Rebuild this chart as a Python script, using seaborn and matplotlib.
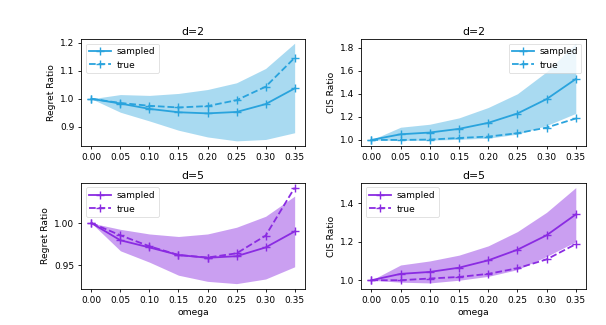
import numpy as np
import matplotlib
matplotlib.use("Agg")
import matplotlib.pyplot as plt
import pandas as pd
import seaborn as sns

plt.rcParams['font.family'] = ['DejaVu Sans']

omega = [0.0, 0.05, 0.10, 0.15, 0.20, 0.25, 0.30, 0.35]

# d=2 regret ratio
reg2_sampled = [1.0, 0.983, 0.964, 0.952, 0.948, 0.953, 0.981, 1.037]
reg2_true = [1.0, 0.985, 0.975, 0.969, 0.974, 0.995, 1.043, 1.146]
reg2_upper = [1.0, 1.015, 1.012, 1.019, 1.033, 1.057, 1.108, 1.198]
reg2_lower = [1.0, 0.952, 0.921, 0.888, 0.864, 0.850, 0.855, 0.879]

# d=2 CIS ratio
cis2_sampled = [1.0, 1.049, 1.064, 1.096, 1.148, 1.229, 1.354, 1.528]
cis2_true = [1.0, 1.0, 1.003, 1.017, 1.029, 1.058, 1.107, 1.186]
cis2_upper = [1.0, 1.11, 1.136, 1.191, 1.281, 1.40, 1.591, 1.838]
cis2_lower = [1.0, 0.995, 0.998, 1.005, 1.015, 1.05, 1.125, 1.23]

# d=5 regret ratio
reg5_sampled = [1.0, 0.9795, 0.971, 0.962, 0.9587, 0.9606, 0.971, 0.990]
reg5_true = [1.0, 0.9854, 0.9724, 0.962, 0.959, 0.964, 0.985, 1.042]
reg5_upper = [1.0, 0.9925, 0.987, 0.984, 0.987, 0.995, 1.008, 1.032]
reg5_lower = [1.0, 0.967, 0.9535, 0.938, 0.9307, 0.928, 0.9335, 0.948]

# d=5 CIS ratio
cis5_sampled = [1.0, 1.033, 1.043, 1.065, 1.103, 1.158, 1.233, 1.341]
cis5_true = [1.0, 1.0, 1.009, 1.017, 1.033, 1.062, 1.108, 1.187]
cis5_upper = [1.0, 1.079, 1.10, 1.13, 1.178, 1.252, 1.352, 1.48]
cis5_lower = [1.0, 0.99, 0.986, 1.0, 1.02, 1.055, 1.123, 1.2]

blue = '#29a3dd'
purple = '#8a2be2'

fig = plt.figure(figsize=(6.06, 3.25), dpi=100)
ax_tl = fig.add_axes([0.134, 0.551, 0.369, 0.329])
ax_tr = fig.add_axes([0.596, 0.551, 0.371, 0.329])
ax_bl = fig.add_axes([0.134, 0.111, 0.369, 0.326])
ax_br = fig.add_axes([0.596, 0.111, 0.371, 0.326])

panels = [
    (ax_tl, reg2_sampled, reg2_true, reg2_lower, reg2_upper, blue, 0.4, 'd=2', 'Regret Ratio', (0.832, 1.213), [0.9, 1.0, 1.1, 1.2], '%.1f', 'upper left'),
    (ax_tr, cis2_sampled, cis2_true, cis2_lower, cis2_upper, blue, 0.4, 'd=2', 'CIS Ratio', (0.948, 1.875), [1.0, 1.2, 1.4, 1.6, 1.8], '%.1f', 'upper right'),
    (ax_bl, reg5_sampled, reg5_true, reg5_lower, reg5_upper, purple, 0.45, 'd=5', 'Regret Ratio', (0.9217, 1.0476), [0.95, 1.0], '%.2f', 'upper left'),
    (ax_br, cis5_sampled, cis5_true, cis5_lower, cis5_upper, purple, 0.45, 'd=5', 'CIS Ratio', (0.955, 1.504), [1.0, 1.2, 1.4], '%.1f', 'upper left'),
]

for ax, samp, true, lo, hi, col, alpha, title, ylabel, ylim, yticks, fmt, loc in panels:
    ax.fill_between(omega, lo, hi, color=col, alpha=alpha, linewidth=0)
    sns.lineplot(x=omega, y=samp, ax=ax, color=col, marker='+', markersize=6,
                 markeredgewidth=1.0, markeredgecolor=col, linewidth=1.3,
                 label='sampled')
    sns.lineplot(x=omega, y=true, ax=ax, color=col, marker='+', markersize=6,
                 markeredgewidth=1.0, markeredgecolor=col, linewidth=1.3,
                 linestyle='--', label='true')
    ax.set_title(title, fontsize=7.8, pad=3)
    ax.set_ylabel(ylabel, fontsize=6.6, labelpad=3)
    ax.set_ylim(*ylim)
    ax.set_xlim(-0.0175, 0.3675)
    ax.set_yticks(yticks)
    ax.yaxis.set_major_formatter(matplotlib.ticker.FormatStrFormatter(fmt))
    ax.set_xticks(omega)
    ax.set_xticklabels(['%.2f' % v for v in omega])
    ax.tick_params(labelsize=6.5, length=2.5, width=0.6, pad=2.5)
    for s in ax.spines.values():
        s.set_linewidth(0.6)
    leg = ax.legend(loc=loc, fontsize=6.5, handlelength=2.4, handletextpad=0.6,
                    framealpha=0.8)
    leg.get_frame().set_linewidth(0.5)

ax_bl.set_xlabel('omega', fontsize=6.6, labelpad=2)
ax_br.set_xlabel('omega', fontsize=6.6, labelpad=2)

fig.savefig('out.png', dpi=100)
